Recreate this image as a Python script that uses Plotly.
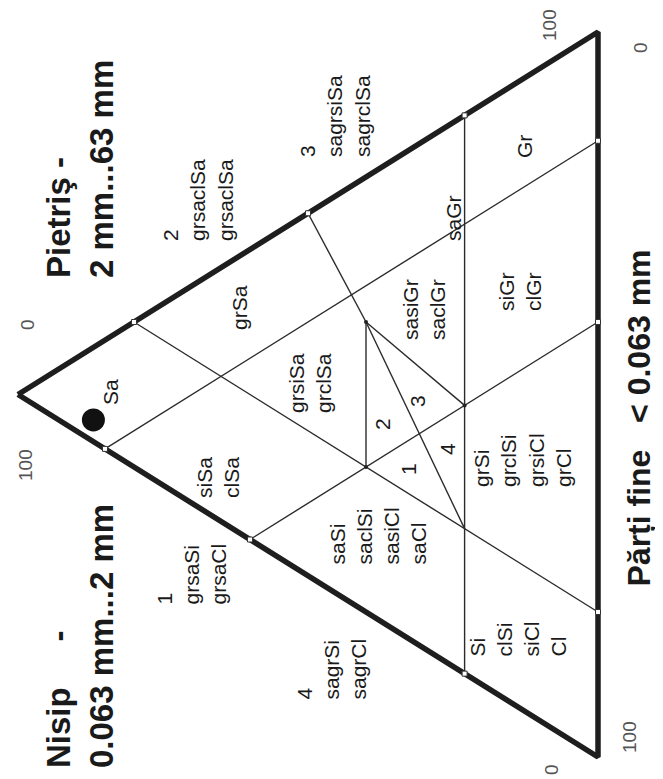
import plotly.graph_objects as go

# ---------------- data (percent: sand, gravel, fines) ----------------
outline_sand = [100, 0, 0, 100]
outline_gravel = [0, 100, 0, 0]
outline_fines = [0, 0, 100, 0]

seg_start_sand = [80, 85, 60, 23, 50, 40, 40, 40]
seg_start_gravel = [20, 0, 0, 77, 50, 40, 40, 40]
seg_start_fines = [0, 15, 40, 0, 0, 20, 20, 20]
seg_end_sand = [0, 0, 0, 23, 40, 40, 23, 23]
seg_end_gravel = [20, 85, 60, 0, 40, 20, 37, 20]
seg_end_fines = [80, 15, 40, 77, 20, 40, 40, 57]

edge_tick_sand = [80, 50, 23, 85, 60, 23, 0, 0, 0]
edge_tick_gravel = [20, 50, 77, 0, 0, 0, 85, 60, 20]
edge_tick_fines = [0, 0, 0, 15, 40, 77, 15, 40, 80]

node_sand = [40, 40, 23]
node_gravel = [40, 20, 37]
node_fines = [20, 40, 40]

sample_sand = [87]
sample_gravel = [3]
sample_fines = [10]

axis_tick_labels = ["0", "100", "100", "0", "100", "0"]

# page is 663x779; the browser's default 8px body margin offsets the figure
OFF = 8
W, H = 663 - OFF, 779 - OFF


def uv(g, f):
    """ternary (gravel, fines in %) -> plane coords (u = 1 - sand, v = (G - F) / 2)"""
    return (g + f) / 100.0, (g - f) / 200.0


def pts(gl, fl):
    us, vs = [], []
    for g, f in zip(gl, fl):
        u, v = uv(g, f)
        us.append(u)
        vs.append(v)
    return us, vs


fig = go.Figure()

# inner boundary lines
lx, ly = [], []
for i in range(len(seg_start_sand)):
    u0, v0 = uv(seg_start_gravel[i], seg_start_fines[i])
    u1, v1 = uv(seg_end_gravel[i], seg_end_fines[i])
    lx += [u0, u1, None]
    ly += [v0, v1, None]
fig.add_trace(go.Scatter(x=lx, y=ly, mode="lines",
                         line=dict(color="#2b2b2b", width=1.4),
                         hoverinfo="skip", showlegend=False))

# outline
ox, oy = pts(outline_gravel, outline_fines)
fig.add_trace(go.Scatter(x=ox, y=oy, mode="lines",
                         line=dict(color="#1e1e1e", width=5.5),
                         hoverinfo="skip", showlegend=False))

# interior nodes
nx, ny = pts(node_gravel, node_fines)
fig.add_trace(go.Scatter(x=nx, y=ny, mode="markers",
                         marker=dict(color="#222", size=4),
                         hoverinfo="skip", showlegend=False))

# edge ticks (small squares)
tx, ty = pts(edge_tick_gravel, edge_tick_fines)
fig.add_trace(go.Scatter(x=tx, y=ty, mode="markers",
                         marker=dict(symbol="square", color="white", size=5,
                                     line=dict(color="#333", width=1)),
                         hoverinfo="skip", showlegend=False))

# sample point
sx, sy = pts(sample_gravel, sample_fines)
fig.add_trace(go.Scatter(x=sx, y=sy, mode="markers",
                         marker=dict(color="#111", size=23),
                         hoverinfo="skip", showlegend=False))

FONT = "Liberation Sans, Arial, sans-serif"
ann = []


def px(x, y):
    return (x - OFF) / W, 1 - (y - OFF) / H


def label(text, x, y, size=21, yanchor="middle", align="center", bold=False, color="#1a1a1a"):
    X, Y = px(x, y)
    if bold:
        text = "<b>" + text + "</b>"
    ann.append(dict(text=text, x=X, y=Y, xref="paper", yref="paper",
                    xanchor="center", yanchor=yanchor, align=align,
                    textangle=-90, showarrow=False,
                    font=dict(family=FONT, size=size, color=color)))


# titles
label("Pietriş -<br>2 mm...63 mm", 80, 280, size=33, yanchor="bottom", align="left", bold=True)
label("Nisip\u00a0\u00a0\u00a0\u00a0\u00a0-<br>0.063 mm...2 mm", 80, 770, size=33, yanchor="bottom", align="left", bold=True)
label("Părți fine\u00a0\u00a0\u00a0< 0.063 mm", 638, 589, size=32, yanchor="bottom", align="left", bold=True)

# axis tick labels
tick_pos = [(27, 325), (25, 465), (549, 25), (640, 48), (629, 737), (551, 770)]
for t, (x, y) in zip(axis_tick_labels, tick_pos):
    label(t, x, y, size=19, color="#555")

# region labels
label("Sa", 110, 392)
label("siSa<br>clSa", 218, 478)
label("grSa", 240, 308)
label("grsiSa<br>grclSa", 310, 383)
label("saSi<br>saclSi<br>sasiCl<br>saCl", 378, 567, yanchor="bottom", align="left")
label("grSi<br>grclSi<br>grsiCl<br>grCl", 522, 489, yanchor="bottom", align="left")
label("Si<br>clSi<br>siCl<br>Cl", 518, 659, yanchor="bottom", align="left")
label("siGr<br>clGr", 520, 292)
label("Gr", 524, 147)
label("saGr", 454, 218)
label("sasiGr<br>saclGr", 424, 310)
label("2", 382, 424)
label("3", 417, 401)
label("1", 408, 469)
label("4", 447, 449)

# legend groups for small regions
label("2<br>grsaclSa<br>grsaclSa", 198, 243, yanchor="bottom", align="left")
label("3<br>sagrsiSa<br>sagrclSa", 335, 159, yanchor="bottom", align="left")
label("1<br>grsaSi<br>grsaCl", 191, 607, yanchor="bottom", align="left")
label("4<br>sagrSi<br>sagrCl", 331, 702, yanchor="bottom", align="left")

fig.update_layout(
    width=W, height=H,
    margin=dict(l=0, r=0, t=0, b=0),
    paper_bgcolor="white", plot_bgcolor="white",
    xaxis=dict(range=[(OFF - 18) / 580, (663 - 18) / 580], visible=False, fixedrange=True),
    yaxis=dict(range=[(394.5 - 779) / 725, (394.5 - OFF) / 725], visible=False, fixedrange=True),
    annotations=ann,
    showlegend=False,
)

fig.write_html("out.html")
